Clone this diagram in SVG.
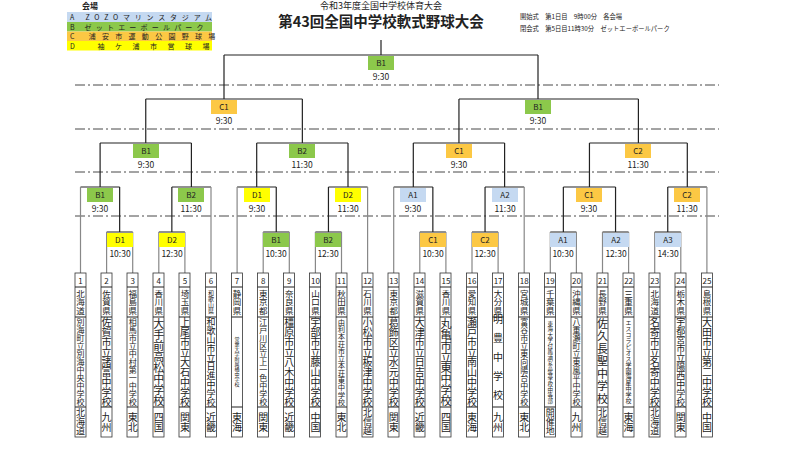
<svg xmlns="http://www.w3.org/2000/svg" width="789" height="450" viewBox="0 0 789 450">
<style>
text{font-family:"Noto Sans CJK JP","Liberation Sans",sans-serif;fill:#222}
.br{stroke:#222;stroke-width:1.2;fill:none}
.tm{stroke:#888;stroke-width:1.2;fill:none}
.dl{stroke:#333;stroke-width:0.9;stroke-dasharray:10,3,2,3;fill:none}
.A{fill:#c5d9f1}.B{fill:#8cc84b}.C{fill:#fcc844}.D{fill:#ffff00}
.lb{font-size:8px;text-anchor:middle}
.t{font-size:8.5px;text-anchor:middle}
.bx{fill:#fff;stroke:#333;stroke-width:0.8}
.n{font-size:8px;text-anchor:middle}
.v{writing-mode:vertical-rl;text-anchor:middle}
.lg{font-size:7px}
</style>
<rect width="789" height="450" fill="#fff"/>
<g id="header">
<text x="381" y="8.5" font-size="9" text-anchor="middle">令和3年度全国中学校体育大会</text>
<text x="381" y="27" font-size="14.5" font-weight="bold" text-anchor="middle">第43回全国中学校軟式野球大会</text>
<text x="520" y="19" font-size="6.3">開始式　第1日目　9時00分　各会場</text>
<text x="520" y="31" font-size="6.3">閉会式　第5日目11時30分　ゼットエーボールパーク</text>
</g>
<g id="legend">
<text x="82" y="9" font-size="8" font-weight="bold">会場</text>
<rect x="67" y="12" width="145" height="10" class="A"/>
<rect x="67" y="22" width="145" height="9.5" class="B"/>
<rect x="67" y="31.5" width="145" height="9.5" class="C"/>
<rect x="67" y="41" width="145" height="9.5" class="D"/>
<text x="70" y="20" class="lg" letter-spacing="4.8">A ZOZOマリンスタジアム</text>
<text x="70" y="29.5" class="lg" letter-spacing="4.2">B ゼットエーボールパーク</text>
<text x="70" y="39" class="lg" font-size="6.5" letter-spacing="6.3">C 浦安市運動公園野球場</text>
<text x="70" y="48.5" class="lg" letter-spacing="10.5">D 袖ケ浦市営球場</text>
</g>
<g id="guides">
<path class="dl" d="M75 85H719M75 129H719M75 172H719M75 216H719"/>
</g>
<g id="connectors">
<path class="br" d="M381 40V55M224 55H538M224 55V99M538 55V99"/>
<path class="br" d="M145.75 99H302.35M145.75 99V143M302.35 99V143M458.95 99H638.4M458.95 99V143M638.4 99V143"/>
<path class="br" d="M100.1 143H191.4M100.1 143V187M191.4 143V187M256.7 143H348M256.7 143V187M348 143V187M413.3 143H504.6M413.3 143V187M504.6 143V187M589.45 143H687.3M589.45 143V187M687.3 143V187"/>
<path class="br" d="M80.5 187H119.65M171.85 187H211M237.1 187H276.25M328.45 187H367.6M393.7 187H432.85M485.05 187H524.2M563.35 187H615.55M667.75 187H706.9"/>
<path class="br" d="M119.65 187V232M171.85 187V232M276.25 187V232M328.45 187V232M432.85 187V232M485.05 187V232M563.35 187V232M615.55 187V232M667.75 187V232"/>
<path class="br" d="M106.6 232H132.7M158.8 232H184.9M263.2 232H289.3M315.4 232H341.5M419.8 232H445.9M472 232H498.1M550.3 232H576.4M602.5 232H628.6M654.7 232H680.8"/>
<path class="tm" d="M80.5 187V273M211 187V273M237.1 187V273M367.6 187V273M393.7 187V273M524.2 187V273M706.9 187V273"/>
<path class="tm" d="M106.6 232V273M132.7 232V273M158.8 232V273M184.9 232V273M263.2 232V273M289.3 232V273M315.4 232V273M341.5 232V273M419.8 232V273M445.9 232V273M472 232V273M498.1 232V273M550.3 232V273M576.4 232V273M602.5 232V273M628.6 232V273M654.7 232V273M680.8 232V273"/>
</g>
<g id="matches">
<rect class="B" x="368" y="56" width="26" height="14"/><text class="lb" x="381" y="66">B1</text><text class="t" x="381" y="80">9:30</text>
<rect class="C" x="211" y="100" width="26" height="14"/><text class="lb" x="224" y="110">C1</text><text class="t" x="224" y="124">9:30</text>
<rect class="B" x="525" y="100" width="26" height="14"/><text class="lb" x="538" y="110">B1</text><text class="t" x="538" y="124">9:30</text>
<rect class="B" x="133" y="144" width="26" height="14"/><text class="lb" x="146" y="154">B1</text><text class="t" x="146" y="168">9:30</text>
<rect class="B" x="289" y="144" width="26" height="14"/><text class="lb" x="302" y="154">B2</text><text class="t" x="302" y="168">11:30</text>
<rect class="C" x="446" y="144" width="26" height="14"/><text class="lb" x="459" y="154">C1</text><text class="t" x="459" y="168">9:30</text>
<rect class="C" x="625" y="144" width="26" height="14"/><text class="lb" x="638" y="154">C2</text><text class="t" x="638" y="168">11:30</text>
<rect class="B" x="87" y="188" width="26" height="14"/><text class="lb" x="100" y="198">B1</text><text class="t" x="100" y="212">9:30</text>
<rect class="B" x="178" y="188" width="26" height="14"/><text class="lb" x="191" y="198">B2</text><text class="t" x="191" y="212">11:30</text>
<rect class="D" x="244" y="188" width="26" height="14"/><text class="lb" x="257" y="198">D1</text><text class="t" x="257" y="212">9:30</text>
<rect class="D" x="335" y="188" width="26" height="14"/><text class="lb" x="348" y="198">D2</text><text class="t" x="348" y="212">11:30</text>
<rect class="A" x="400" y="188" width="26" height="14"/><text class="lb" x="413" y="198">A1</text><text class="t" x="413" y="212">9:30</text>
<rect class="A" x="492" y="188" width="26" height="14"/><text class="lb" x="505" y="198">A2</text><text class="t" x="505" y="212">11:30</text>
<rect class="C" x="576" y="188" width="26" height="14"/><text class="lb" x="589" y="198">C1</text><text class="t" x="589" y="212">9:30</text>
<rect class="C" x="674" y="188" width="26" height="14"/><text class="lb" x="687" y="198">C2</text><text class="t" x="687" y="212">11:30</text>
<rect class="D" x="107" y="233" width="26" height="14"/><text class="lb" x="120" y="243">D1</text><text class="t" x="120" y="257">10:30</text>
<rect class="D" x="159" y="233" width="26" height="14"/><text class="lb" x="172" y="243">D2</text><text class="t" x="172" y="257">12:30</text>
<rect class="B" x="263" y="233" width="26" height="14"/><text class="lb" x="276" y="243">B1</text><text class="t" x="276" y="257">10:30</text>
<rect class="B" x="315" y="233" width="26" height="14"/><text class="lb" x="328" y="243">B2</text><text class="t" x="328" y="257">12:30</text>
<rect class="C" x="420" y="233" width="26" height="14"/><text class="lb" x="433" y="243">C1</text><text class="t" x="433" y="257">10:30</text>
<rect class="C" x="472" y="233" width="26" height="14"/><text class="lb" x="485" y="243">C2</text><text class="t" x="485" y="257">12:30</text>
<rect class="A" x="550" y="233" width="26" height="14"/><text class="lb" x="563" y="243">A1</text><text class="t" x="563" y="257">10:30</text>
<rect class="A" x="603" y="233" width="26" height="14"/><text class="lb" x="616" y="243">A2</text><text class="t" x="616" y="257">12:30</text>
<rect class="A" x="655" y="233" width="26" height="14"/><text class="lb" x="668" y="243">A3</text><text class="t" x="668" y="257">14:30</text>
</g>
<g id="teams">
<g id="t1"><rect class="bx" x="75" y="273" width="11" height="164"/><path class="br" d="M75 287H86M75 317H86M75 407H86"/><text class="n" x="80.5" y="284">1</text><text class="v" x="80.5" y="302" font-size="8.5">北海道</text><text class="v" x="80.5" y="362" font-size="8">別海町立別海中央中学校</text><text class="v" x="80.5" y="422" font-size="9">北海道</text></g>
<g id="t2"><rect class="bx" x="101" y="273" width="11" height="164"/><path class="br" d="M101 287H112M101 317H112M101 407H112"/><text class="n" x="106.6" y="284">2</text><text class="v" x="106.6" y="302" font-size="8.5">佐賀県</text><text class="v" x="106.6" y="362" font-size="10">佐賀市立諸富中学校</text><text class="v" x="106.6" y="422" font-size="10">九州</text></g>
<g id="t3"><rect class="bx" x="127" y="273" width="11" height="164"/><path class="br" d="M127 287H138M127 317H138M127 407H138"/><text class="n" x="132.7" y="284">3</text><text class="v" x="132.7" y="302" font-size="8.5">福島県</text><text class="v" x="132.7" y="362" font-size="8">相馬市立中村第一中学校</text><text class="v" x="132.7" y="422" font-size="10">東北</text></g>
<g id="t4"><rect class="bx" x="153" y="273" width="11" height="164"/><path class="br" d="M153 287H164M153 317H164M153 407H164"/><text class="n" x="158.8" y="284">4</text><text class="v" x="158.8" y="302" font-size="8.5">香川県</text><text class="v" x="158.8" y="362" font-size="11">大手前高松中学校</text><text class="v" x="158.8" y="422" font-size="10">四国</text></g>
<g id="t5"><rect class="bx" x="179" y="273" width="11" height="164"/><path class="br" d="M179 287H190M179 317H190M179 407H190"/><text class="n" x="184.9" y="284">5</text><text class="v" x="184.9" y="302" font-size="8.5">埼玉県</text><text class="v" x="184.9" y="362" font-size="10">上尾市立大石中学校</text><text class="v" x="184.9" y="422" font-size="10">関東</text></g>
<g id="t6"><rect class="bx" x="205.5" y="273" width="11" height="164"/><path class="br" d="M205.5 287H216.5M205.5 317H216.5M205.5 407H216.5"/><text class="n" x="211" y="284">6</text><text class="v" x="211" y="302" font-size="6">和歌山県</text><text class="v" x="211" y="362" font-size="9">和歌山市立日進中学校</text><text class="v" x="211" y="422" font-size="10">近畿</text></g>
<g id="t7"><rect class="bx" x="231.5" y="273" width="11" height="164"/><path class="br" d="M231.5 287H242.5M231.5 317H242.5M231.5 407H242.5"/><text class="n" x="237.1" y="284">7</text><text class="v" x="237.1" y="302" font-size="8.5">静岡県</text><text class="v" x="237.1" y="362" font-size="5">常葉大学附属橘中学校</text><text class="v" x="237.1" y="422" font-size="10">東海</text></g>
<g id="t8"><rect class="bx" x="257.5" y="273" width="11" height="164"/><path class="br" d="M257.5 287H268.5M257.5 317H268.5M257.5 407H268.5"/><text class="n" x="263.2" y="284">8</text><text class="v" x="263.2" y="302" font-size="8.5">東京都</text><text class="v" x="263.2" y="362" font-size="8">江戸川区立上一色中学校</text><text class="v" x="263.2" y="422" font-size="10">関東</text></g>
<g id="t9"><rect class="bx" x="283.5" y="273" width="11" height="164"/><path class="br" d="M283.5 287H294.5M283.5 317H294.5M283.5 407H294.5"/><text class="n" x="289.3" y="284">9</text><text class="v" x="289.3" y="302" font-size="8.5">奈良県</text><text class="v" x="289.3" y="362" font-size="10">橿原市立八木中学校</text><text class="v" x="289.3" y="422" font-size="10">近畿</text></g>
<g id="t10"><rect class="bx" x="309.5" y="273" width="11" height="164"/><path class="br" d="M309.5 287H320.5M309.5 317H320.5M309.5 407H320.5"/><text class="n" x="315.4" y="284">10</text><text class="v" x="315.4" y="302" font-size="8.5">山口県</text><text class="v" x="315.4" y="362" font-size="10">宇部市立藤山中学校</text><text class="v" x="315.4" y="422" font-size="10">中国</text></g>
<g id="t11"><rect class="bx" x="336" y="273" width="11" height="164"/><path class="br" d="M336 287H347M336 317H347M336 407H347"/><text class="n" x="341.5" y="284">11</text><text class="v" x="341.5" y="302" font-size="8.5">秋田県</text><text class="v" x="341.5" y="362" font-size="7.3">由利本荘市立本荘東中学校</text><text class="v" x="341.5" y="422" font-size="10">東北</text></g>
<g id="t12"><rect class="bx" x="362" y="273" width="11" height="164"/><path class="br" d="M362 287H373M362 317H373M362 407H373"/><text class="n" x="367.6" y="284">12</text><text class="v" x="367.6" y="302" font-size="8.5">石川県</text><text class="v" x="367.6" y="362" font-size="10">小松市立板津中学校</text><text class="v" x="367.6" y="422" font-size="9">北信越</text></g>
<g id="t13"><rect class="bx" x="388" y="273" width="11" height="164"/><path class="br" d="M388 287H399M388 317H399M388 407H399"/><text class="n" x="393.7" y="284">13</text><text class="v" x="393.7" y="302" font-size="8.5">東京都</text><text class="v" x="393.7" y="362" font-size="10">葛飾区立水元中学校</text><text class="v" x="393.7" y="422" font-size="10">関東</text></g>
<g id="t14"><rect class="bx" x="414" y="273" width="11" height="164"/><path class="br" d="M414 287H425M414 317H425M414 407H425"/><text class="n" x="419.8" y="284">14</text><text class="v" x="419.8" y="302" font-size="8.5">滋賀県</text><text class="v" x="419.8" y="362" font-size="10">大津市立日吉中学校</text><text class="v" x="419.8" y="422" font-size="10">近畿</text></g>
<g id="t15"><rect class="bx" x="440" y="273" width="11" height="164"/><path class="br" d="M440 287H451M440 317H451M440 407H451"/><text class="n" x="445.9" y="284">15</text><text class="v" x="445.9" y="302" font-size="8.5">香川県</text><text class="v" x="445.9" y="362" font-size="11">丸亀市立東中学校</text><text class="v" x="445.9" y="422" font-size="10">四国</text></g>
<g id="t16"><rect class="bx" x="466.5" y="273" width="11" height="164"/><path class="br" d="M466.5 287H477.5M466.5 317H477.5M466.5 407H477.5"/><text class="n" x="472" y="284">16</text><text class="v" x="472" y="302" font-size="8.5">愛知県</text><text class="v" x="472" y="362" font-size="10">瀬戸市立南山中学校</text><text class="v" x="472" y="422" font-size="10">東海</text></g>
<g id="t17"><rect class="bx" x="492.5" y="273" width="11" height="164"/><path class="br" d="M492.5 287H503.5M492.5 317H503.5M492.5 407H503.5"/><text class="n" x="498.1" y="284">17</text><text class="v" x="498.1" y="302" font-size="8.5">大分県</text><text class="v" x="498.1" y="362" font-size="10" letter-spacing="9">明豊中学校</text><text class="v" x="498.1" y="422" font-size="10">九州</text></g>
<g id="t18"><rect class="bx" x="518.5" y="273" width="11" height="164"/><path class="br" d="M518.5 287H529.5M518.5 317H529.5M518.5 407H529.5"/><text class="n" x="524.2" y="284">18</text><text class="v" x="524.2" y="302" font-size="8.5">宮城県</text><text class="v" x="524.2" y="362" font-size="8">富谷市立東向陽台中学校</text><text class="v" x="524.2" y="422" font-size="10">東北</text></g>
<g id="t19"><rect class="bx" x="544.5" y="273" width="11" height="164"/><path class="br" d="M544.5 287H555.5M544.5 317H555.5M544.5 407H555.5"/><text class="n" x="550.3" y="284">19</text><text class="v" x="550.3" y="302" font-size="8.5">千葉県</text><text class="v" x="550.3" y="362" font-size="5.5">東海大学付属浦安高等学校中等部</text><text class="v" x="550.3" y="422" font-size="9">開催地</text></g>
<g id="t20"><rect class="bx" x="571" y="273" width="11" height="164"/><path class="br" d="M571 287H582M571 317H582M571 407H582"/><text class="n" x="576.4" y="284">20</text><text class="v" x="576.4" y="302" font-size="8.5">沖縄県</text><text class="v" x="576.4" y="362" font-size="8">八重瀬町立東風平中学校</text><text class="v" x="576.4" y="422" font-size="10">九州</text></g>
<g id="t21"><rect class="bx" x="597" y="273" width="11" height="164"/><path class="br" d="M597 287H608M597 317H608M597 407H608"/><text class="n" x="602.5" y="284">21</text><text class="v" x="602.5" y="302" font-size="8.5">長野県</text><text class="v" x="602.5" y="362" font-size="11" letter-spacing="1.5">佐久長聖中学校</text><text class="v" x="602.5" y="422" font-size="9">北信越</text></g>
<g id="t22"><rect class="bx" x="623" y="273" width="11" height="164"/><path class="br" d="M623 287H634M623 317H634M623 407H634"/><text class="n" x="628.6" y="284">22</text><text class="v" x="628.6" y="302" font-size="8.5">三重県</text><text class="v" x="628.6" y="362" font-size="6">エスコラピオス学園海星中学校</text><text class="v" x="628.6" y="422" font-size="10">東海</text></g>
<g id="t23"><rect class="bx" x="649" y="273" width="11" height="164"/><path class="br" d="M649 287H660M649 317H660M649 407H660"/><text class="n" x="654.7" y="284">23</text><text class="v" x="654.7" y="302" font-size="8.5">北海道</text><text class="v" x="654.7" y="362" font-size="10">名寄市立名寄中学校</text><text class="v" x="654.7" y="422" font-size="9">北海道</text></g>
<g id="t24"><rect class="bx" x="675" y="273" width="11" height="164"/><path class="br" d="M675 287H686M675 317H686M675 407H686"/><text class="n" x="680.8" y="284">24</text><text class="v" x="680.8" y="302" font-size="8.5">栃木県</text><text class="v" x="680.8" y="362" font-size="9">宇都宮市立陽西中学校</text><text class="v" x="680.8" y="422" font-size="10">関東</text></g>
<g id="t25"><rect class="bx" x="701.5" y="273" width="11" height="164"/><path class="br" d="M701.5 287H712.5M701.5 317H712.5M701.5 407H712.5"/><text class="n" x="706.9" y="284">25</text><text class="v" x="706.9" y="302" font-size="8.5">島根県</text><text class="v" x="706.9" y="362" font-size="10">大田市立第二中学校</text><text class="v" x="706.9" y="422" font-size="10">中国</text></g>
</g>
</svg>
